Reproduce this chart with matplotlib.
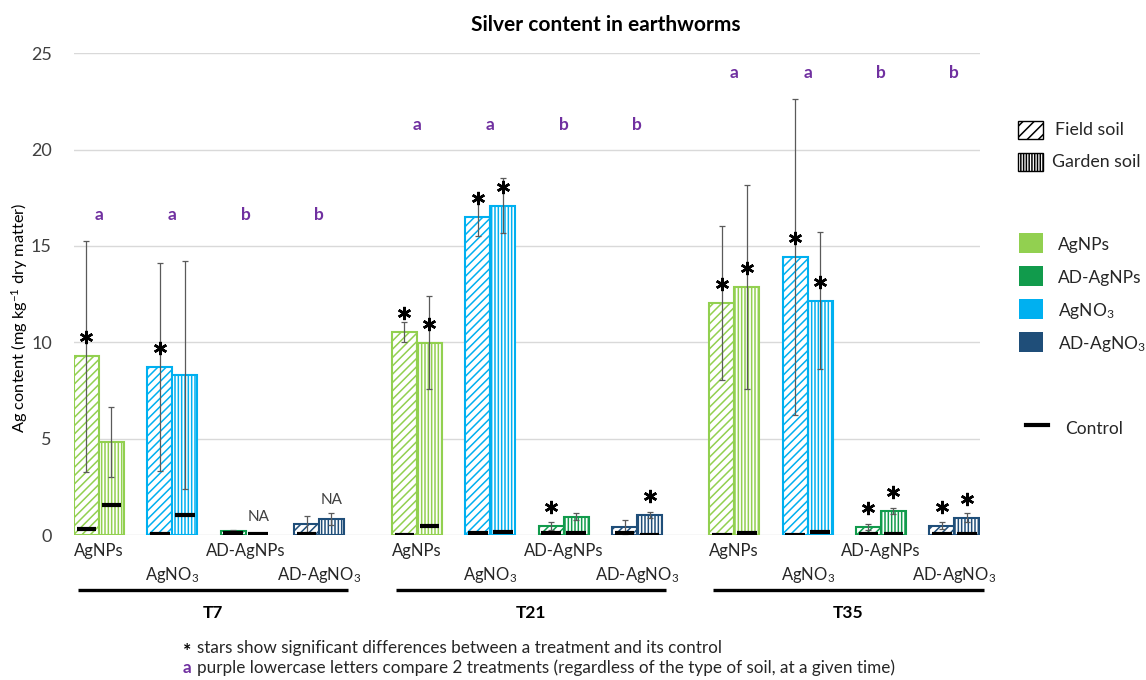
import numpy as np
import matplotlib
matplotlib.use('Agg')
import matplotlib.pyplot as plt
from matplotlib.patches import Rectangle
from matplotlib.lines import Line2D
import matplotlib.transforms as mtransforms

plt.rcParams['font.family'] = ['Lato', 'DejaVu Sans']
plt.rcParams['mathtext.fontset'] = 'custom'
plt.rcParams['mathtext.rm'] = 'Lato'
plt.rcParams['mathtext.it'] = 'Lato:italic'
plt.rcParams['mathtext.bf'] = 'Lato:bold'
plt.rcParams['hatch.linewidth'] = 1.1

# ---------------- data ----------------
times = ['T7', 'T21', 'T35']
treatments = ['AgNPs', 'AgNO$_3$', 'AD-AgNPs', 'AD-AgNO$_3$']
treat_colors = ['#92D050', '#00B0F0', '#119B4C', '#1F4E79']

# order: T7 (AgNPs, AgNO3, AD-AgNPs, AD-AgNO3), T21 (...), T35 (...)
field_mean = [9.28, 8.73, 0.22, 0.57, 10.53, 16.51, 0.47, 0.41, 12.05, 14.43, 0.40, 0.48]
field_err = [6.0, 5.4, 0.05, 0.43, 0.50, 1.00, 0.20, 0.37, 4.0, 8.2, 0.15, 0.18]
garden_mean = [4.82, 8.30, np.nan, 0.83, 9.98, 17.10, 0.95, 1.05, 12.88, 12.15, 1.26, 0.90]
garden_err = [1.8, 5.9, np.nan, 0.33, 2.4, 1.45, 0.18, 0.16, 5.3, 3.55, 0.16, 0.22]
field_ctrl = [0.30, 0.07, 0.12, 0.07, 0.02, 0.08, 0.10, 0.12, 0.02, 0.02, 0.04, 0.04]
garden_ctrl = [1.57, 1.04, 0.07, np.nan, 0.48, 0.15, 0.12, 0.02, 0.10, 0.15, 0.05, 0.03]
field_star = [1, 1, 0, 0, 1, 1, 1, 0, 1, 1, 1, 1]
garden_star = [0, 0, 0, 0, 1, 1, 0, 1, 1, 1, 1, 1]
letters = ['a', 'a', 'b', 'b', 'a', 'a', 'b', 'b', 'a', 'a', 'b', 'b']
letter_level = [16.6, 21.3, 24.0]
na_garden_level = [np.nan, np.nan, 0.95, 1.8, np.nan, np.nan, np.nan, np.nan, np.nan, np.nan, np.nan, np.nan]
yticks = [0, 5, 10, 15, 20, 25]

legend_order = [0, 2, 1, 3]

# ---------------- figure ----------------
W, H = 1146, 680
fig = plt.figure(figsize=(W / 100, H / 100), dpi=100)

def fx(px):
    return px / W

def fy(py):
    return 1 - py / H

ax = fig.add_axes([fx(74), fy(535), (980 - 74) / W, (535 - 53.3) / H])

group_off = [0.0, 4.335, 8.66]
bw = 0.34
edge_lw = 1.5
txt_gray = '#404040'
label_col = '#262626'

for g in range(3):
    for i in range(4):
        k = g * 4 + i
        c = group_off[g] + i
        col = treat_colors[i]
        xf = c - bw / 2
        xg = c + bw / 2
        # field soil bar
        ax.bar(xf, field_mean[k], width=bw, facecolor='white', edgecolor=col,
               hatch='////', linewidth=edge_lw, zorder=2)
        ax.errorbar(xf, field_mean[k], yerr=field_err[k], fmt='none', ecolor='#5a5a5a',
                    elinewidth=0.9, capsize=2.5, capthick=0.9, zorder=3)
        # garden soil bar
        if not np.isnan(garden_mean[k]):
            ax.bar(xg, garden_mean[k], width=bw, facecolor='white', edgecolor=col,
                   hatch='|||||', linewidth=edge_lw, zorder=2)
            ax.errorbar(xg, garden_mean[k], yerr=garden_err[k], fmt='none', ecolor='#5a5a5a',
                        elinewidth=0.9, capsize=2.5, capthick=0.9, zorder=3)
        # controls
        ax.hlines(field_ctrl[k], xf - 0.135, xf + 0.135, color='black', lw=3.0, zorder=4)
        if not np.isnan(garden_ctrl[k]):
            ax.hlines(garden_ctrl[k], xg - 0.135, xg + 0.135, color='black', lw=3.0, zorder=4)
        # stars
        star_tr = mtransforms.offset_copy(ax.transData, fig=fig, x=0, y=19, units='dots')
        if field_star[k]:
            ax.plot([xf], [field_mean[k]], marker=(6, 2, 0), markersize=9.5, mew=1.8,
                    color='black', transform=star_tr, zorder=5, clip_on=False)
        if garden_star[k]:
            ax.plot([xg], [garden_mean[k]], marker=(6, 2, 0), markersize=9.5, mew=1.8,
                    color='black', transform=star_tr, zorder=5, clip_on=False)
        # NA label
        if not np.isnan(na_garden_level[k]):
            ax.text(xg, na_garden_level[k], 'NA', ha='center', va='center',
                    fontsize=11, color=txt_gray)
        # purple letters
        ax.text(c, letter_level[g], letters[k], ha='center', va='center',
                fontsize=12.5, fontweight='bold', color='#7030A0')

ax.set_xlim(-0.34, 12.01)
ax.set_ylim(0, 25)
ax.set_yticks(yticks)
ax.set_yticklabels([str(t) for t in yticks], fontsize=13, color='#404040')
ax.tick_params(axis='y', length=0, pad=16)
ax.set_xticks([])
for s in ax.spines.values():
    s.set_visible(False)
ax.grid(axis='y', color='#d9d9d9', lw=1.0, zorder=0)
ax.set_axisbelow(True)

# category labels
btr = mtransforms.blended_transform_factory(ax.transData, fig.transFigure)
for g in range(3):
    for i in range(4):
        c = group_off[g] + i
        ypix = 551 if i % 2 == 0 else 575
        ax.text(c, fy(ypix), treatments[i], transform=btr, ha='center', va='center',
                fontsize=12, color=label_col)
    line = Line2D([group_off[g] - 0.29, group_off[g] + 3.4], [fy(590), fy(590)],
                  transform=btr, color='black', lw=2.4, solid_capstyle='butt')
    fig.add_artist(line)
    ax.text(group_off[g] + 1.55, fy(613), times[g], transform=btr, ha='center', va='center',
            fontsize=12.5, fontweight='bold', color='#000000')

# y label
fig.text(fx(20), fy(318), 'Ag content (mg kg$^{\\mathregular{-1}}$ dry matter)', rotation=90,
         ha='center', va='center', fontsize=11.8, color='#000000')

# title
fig.text(fx(606), fy(25), 'Silver content in earthworms', ha='center', va='center',
         fontsize=15, fontweight='bold', color='#000000')

# legend: soil types
fig.add_artist(Rectangle((fx(1018), fy(139)), 25 / W, 18 / H, transform=fig.transFigure,
                         facecolor='white', edgecolor='black', hatch='///', lw=1.0))
fig.text(fx(1055), fy(130), 'Field soil', ha='left', va='center', fontsize=12.8, color=label_col)
fig.add_artist(Rectangle((fx(1018), fy(171)), 25 / W, 18 / H, transform=fig.transFigure,
                         facecolor='white', edgecolor='black', hatch='||||||', lw=1.0))
fig.text(fx(1052), fy(162), 'Garden soil', ha='left', va='center', fontsize=12.8, color=label_col)

# legend: treatments
leg_y = [243, 276, 309, 342]
for j, idx in enumerate(legend_order):
    yc = leg_y[j]
    fig.add_artist(Rectangle((fx(1019), fy(yc + 10)), 24 / W, 20 / H, transform=fig.transFigure,
                             facecolor=treat_colors[idx], edgecolor='none'))
    fig.text(fx(1058), fy(yc + 2), treatments[idx], ha='left', va='center',
             fontsize=12.5, color=label_col)

# legend: control
fig.add_artist(Line2D([fx(1026), fx(1048)], [fy(425), fy(425)], transform=fig.transFigure,
                      color='black', lw=3.0))
fig.text(fx(1065), fy(429), 'Control', ha='left', va='center', fontsize=12.5, color=label_col)

# footnotes
fig.text(fx(187), fy(652), '*', ha='center', va='center', fontsize=14, fontweight='bold',
         color='black')
fig.text(fx(197), fy(648), 'stars show significant differences between a treatment and its control',
         ha='left', va='center', fontsize=12.3, color=label_col)
fig.text(fx(187), fy(668), 'a', ha='center', va='center', fontsize=12.3, fontweight='bold',
         color='#7030A0')
fig.text(fx(197), fy(668), 'purple lowercase letters compare 2 treatments (regardless of the type of soil, at a given time)',
         ha='left', va='center', fontsize=12.3, color=label_col)

fig.savefig('out.png', dpi=100)
